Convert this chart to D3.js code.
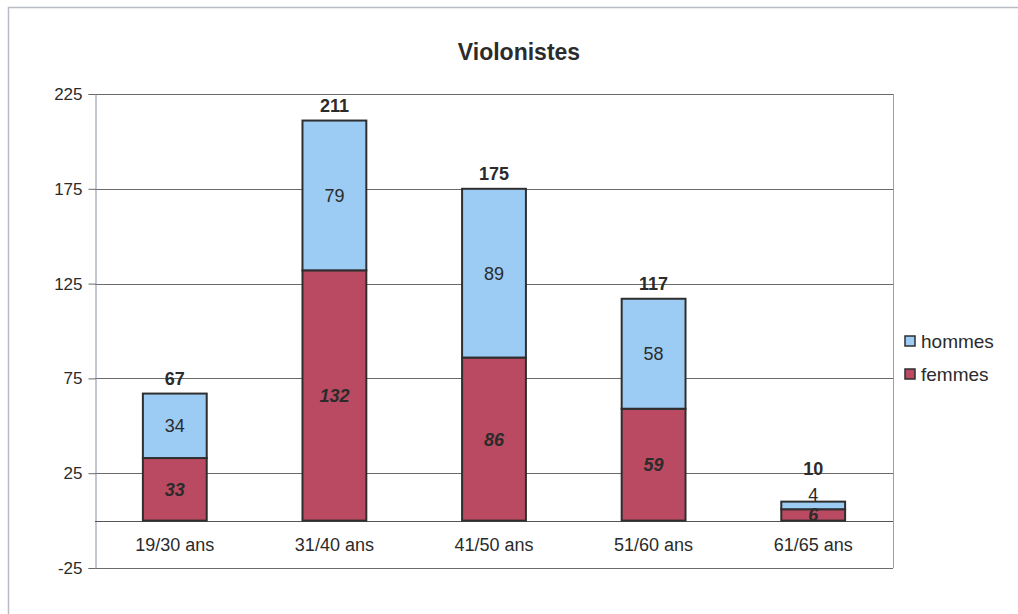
<!DOCTYPE html>
<html>
<head>
<meta charset="utf-8">
<script src="https://cdn.jsdelivr.net/npm/d3@7"></script>
<style>
  body { margin: 0; background: #fff; }
  svg text { font-family: "Liberation Sans", Arial, sans-serif; fill: #2b2b2b; }
</style>
</head>
<body>
<div id="chart"></div>
<script>
const categories = ["19/30 ans", "31/40 ans", "41/50 ans", "51/60 ans", "61/65 ans"];
const femmes = [33, 132, 86, 59, 6];
const hommes = [34, 79, 89, 58, 4];
const totals = [67, 211, 175, 117, 10];
const yTicks = [-25, 25, 75, 125, 175, 225];

const W = 1018, H = 614;
const margin = {left: 95, right: 125, top: 94, bottom: 46};

const svg = d3.select("#chart").append("svg")
    .attr("width", W).attr("height", H);

// outer frame
svg.append("rect")
    .attr("x", 8.5).attr("y", 7.5)
    .attr("width", W + 10).attr("height", H)
    .attr("fill", "#fff").attr("stroke", "#b8bcc4").attr("stroke-width", 1.5);

const x = d3.scaleBand()
    .domain(categories)
    .range([margin.left, W - margin.right])
    .paddingInner(0.6).paddingOuter(0.3);

const y = d3.scaleLinear()
    .domain([-25, 225])
    .range([H - margin.bottom, margin.top]);

// gridlines
svg.append("g").selectAll("line")
    .data(yTicks)
    .join("line")
    .attr("x1", margin.left).attr("x2", W - margin.right)
    .attr("y1", d => Math.round(y(d)) + 0.5).attr("y2", d => Math.round(y(d)) + 0.5)
    .attr("stroke", "#6a6a6a").attr("stroke-width", 1);

// right side of plot frame
svg.append("line")
    .attr("x1", W - margin.right + 0.5).attr("x2", W - margin.right + 0.5)
    .attr("y1", y(225)).attr("y2", y(-25))
    .attr("stroke", "#9aa0a8");

// y axis
const yAxis = svg.append("g")
    .attr("transform", `translate(${margin.left + 0.5},0)`)
    .call(d3.axisLeft(y).tickValues(yTicks).tickSize(7).tickPadding(6)
        .tickFormat(d => String(d)));
yAxis.select(".domain").attr("stroke", "#8890a0");
yAxis.selectAll(".tick line").attr("stroke", "#6a6a6a");
yAxis.selectAll(".tick text")
    .style("font-size", "17px")
    .attr("fill", "#2b2b2b")
    .style("font-family", "'Liberation Sans', Arial, sans-serif");

// zero line
svg.append("line")
    .attr("x1", margin.left).attr("x2", W - margin.right)
    .attr("y1", Math.round(y(0)) + 0.5).attr("y2", Math.round(y(0)) + 0.5)
    .attr("stroke", "#555");

// stacked data
const rows = categories.map((c, i) => ({cat: c, femmes: femmes[i], hommes: hommes[i]}));
const stack = d3.stack().keys(["femmes", "hommes"])(rows);
const colors = {femmes: "#b94a62", hommes: "#9ccbf4"};

svg.append("g").selectAll("g")
    .data(stack)
    .join("g")
    .attr("fill", d => colors[d.key])
    .selectAll("rect")
    .data(d => d)
    .join("rect")
    .attr("x", d => x(d.data.cat))
    .attr("width", x.bandwidth())
    .attr("y", d => y(d[1]))
    .attr("height", d => y(d[0]) - y(d[1]))
    .attr("stroke", "#2e2e2e").attr("stroke-width", 2);

// segment labels (a thin hommes segment puts its label just above the bar)
const thin = v => (y(0) - y(v)) < 16;
stack.forEach(s => {
    svg.append("g").selectAll("text")
        .data(s)
        .join("text")
        .attr("x", d => x(d.data.cat) + x.bandwidth() / 2)
        .attr("y", d => (s.key === "hommes" && thin(d.data.hommes))
            ? y(d[1]) - 7 : y((d[0] + d[1]) / 2))
        .attr("dy", "0.36em")
        .attr("text-anchor", "middle")
        .style("font-size", "18px")
        .style("font-weight", s.key === "femmes" ? "bold" : "normal")
        .style("font-style", s.key === "femmes" ? "italic" : "normal")
        .text(d => d.data[s.key]);
});

// totals
svg.append("g").selectAll("text")
    .data(categories)
    .join("text")
    .attr("x", d => x(d) + x.bandwidth() / 2)
    .attr("y", (d, i) => y(totals[i]) - (thin(hommes[i]) ? 27 : 9))
    .attr("text-anchor", "middle")
    .style("font-size", "18px")
    .style("font-weight", "bold")
    .text((d, i) => totals[i]);

// category labels
svg.append("g").selectAll("text")
    .data(categories)
    .join("text")
    .attr("x", d => x(d) + x.bandwidth() / 2)
    .attr("y", y(-12.5))
    .attr("dy", "0.36em")
    .attr("text-anchor", "middle")
    .style("font-size", "18px")
    .text(d => d);

// title
svg.append("text")
    .attr("x", 519).attr("y", 60)
    .attr("text-anchor", "middle")
    .style("font-size", "23px")
    .style("font-weight", "bold")
    .text("Violonistes");

// legend
const legend = svg.append("g").attr("transform", "translate(905,341)");
["hommes", "femmes"].forEach((k, i) => {
    const g = legend.append("g").attr("transform", `translate(0,${i * 33})`);
    g.append("rect")
        .attr("x", 0).attr("y", -5).attr("width", 10).attr("height", 10)
        .attr("fill", colors[k]).attr("stroke", "#2e2e2e").attr("stroke-width", 1.5);
    g.append("text")
        .attr("x", 16).attr("dy", "0.36em")
        .style("font-size", "19px")
        .text(k);
});
</script>
</body>
</html>
